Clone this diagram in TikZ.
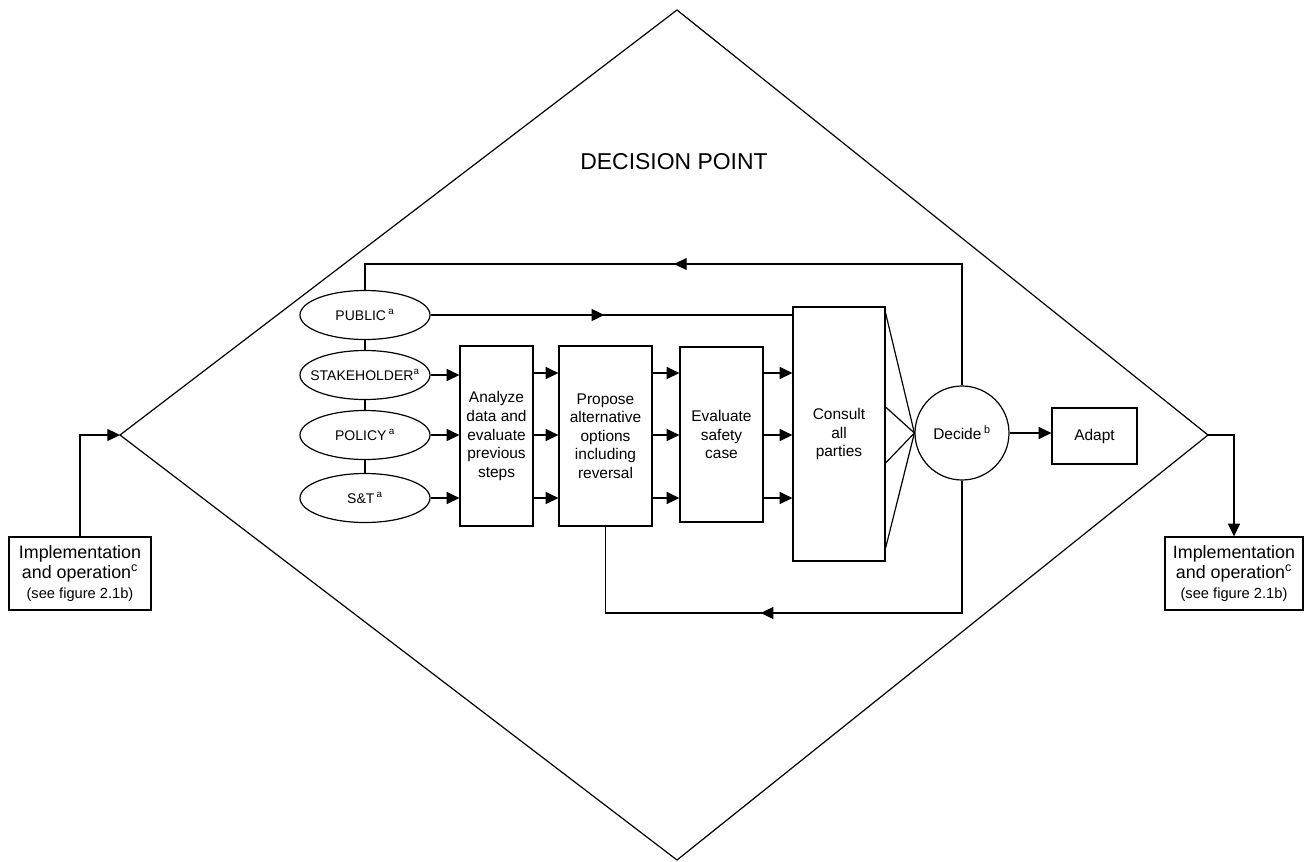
\documentclass[tikz,border=0pt]{standalone}
\usepackage{fontspec}
\setmainfont{Liberation Sans}
\usetikzlibrary{arrows.meta,shapes.geometric,decorations.markings}

\tikzset{
    tri/.style={-{Triangle[length=9.5pt,width=9pt]}},
    midtri/.style={postaction={decorate},decoration={markings,
        mark=at position #1 with {\arrow{Triangle[length=9.5pt,width=9pt]}}}},
    source/.style={draw,ellipse,minimum width=97.5pt,minimum height=36.75pt,
        inner xsep=-14pt,inner ysep=0pt,font=\fontsize{10.5}{12}\selectfont},
    stepbox/.style={draw,align=center,inner sep=0pt,font=\fontsize{11.6}{13.9}\selectfont},
    implbox/.style={draw,align=center,minimum width=106.5pt,minimum height=54.75pt,
        inner sep=0pt,font=\fontsize{13.4}{15}\selectfont}
}

\begin{document}
\begin{tikzpicture}[x=0.75pt,y=-0.75pt,line width=0.9pt]
    \useasboundingbox (0,0) rectangle (1306,861);

    % decision point
    \coordinate (dtop) at (677,10);
    \coordinate (dright) at (1208,435);
    \coordinate (dbottom) at (677,860);
    \coordinate (dleft) at (120,435);
    \draw (dtop) -- (dright) -- (dbottom) -- (dleft) -- cycle;
    \node[font=\fontsize{17.2}{20}\selectfont] (title) at (674,162) {DECISION POINT};

    \node[source] (public) at (365,315) {PUBLIC\,\textsuperscript{a}};
    \node[source] (stake) at (365,375) {STAKEHOLDER\textsuperscript{a}};
    \node[source] (policy) at (365,435) {POLICY\,\textsuperscript{a}};
    \node[source] (st) at (365,498) {S\&T\,\textsuperscript{a}};

    \node[stepbox,minimum width=54.75pt,minimum height=135pt] (analyze) at (496.5,436)
        {Analyze\\data and\\evaluate\\previous\\steps};
    \node[stepbox,minimum width=69.75pt,minimum height=135pt] (propose) at (605.5,436)
        {Propose\\alternative\\options\\including\\reversal};
    \node[stepbox,minimum width=62.25pt,minimum height=131.25pt] (evaluate) at (721.5,434.5)
        {Evaluate\\safety\\case};
    \node[stepbox,minimum width=69pt,minimum height=190.5pt] (consult) at (839,434)
        {Consult\\all\\parties};
    \node[stepbox,circle,minimum size=70.5pt] (decide) at (962,433) {Decide\,\textsuperscript{b}};
    \node[stepbox,minimum width=63.75pt,minimum height=42pt] (adapt) at (1094.5,436) {Adapt};

    \node[implbox] (implL) at (80,573.5)
        {Implementation\\and operation\textsuperscript{c}\\{\fontsize{11}{13}\selectfont (see figure 2.1b)}};
    \node[implbox,minimum width=103.5pt] (implR) at (1234,573.5)
        {Implementation\\and operation\textsuperscript{c}\\{\fontsize{11}{13}\selectfont (see figure 2.1b)}};

    % rows
    \foreach \r/\y in {r1/373,r2/435,r3/498} {\coordinate (\r) at (0,\y);}
    \foreach \f/\y in {f1/313,f2/407,f3/463,f4/548} {\coordinate (\f) at (0,\y);}
    \coordinate (top) at (0,264);
    \coordinate (bot) at (0,613);

    \foreach \a/\b in {public/stake,stake/policy,policy/st} {
        \draw (\a.south) -- (\b.north);
    }
    \foreach \n in {stake,policy,st} {
        \draw[tri] (\n.east) -- (\n.east -| analyze.west);
    }
    \foreach \r in {r1,r2,r3} {
        \draw[tri] (analyze.east |- \r) -- (propose.west |- \r);
        \draw[tri] (propose.east |- \r) -- (evaluate.west |- \r);
        \draw[tri] (evaluate.east |- \r) -- (consult.west |- \r);
    }
    \draw[midtri=0.48] (public.east) -- (public.east -| consult.west);
    \foreach \f in {f1,f2,f3,f4} {
        \draw (consult.east |- \f) -- (decide.west);
    }
    \draw[tri] (decide.east) -- (decide.east -| adapt.west);

    % loops back
    \draw[midtri=0.55] (decide.north) |- (public.north |- top) -- (public.north);
    \draw[midtri=0.58] (decide.south) |- (propose.south |- bot) -- (propose.south);

    \draw[tri] (implL.north) |- (dleft);
    \draw[tri] (dright) -| (implR.north);
\end{tikzpicture}
\end{document}
